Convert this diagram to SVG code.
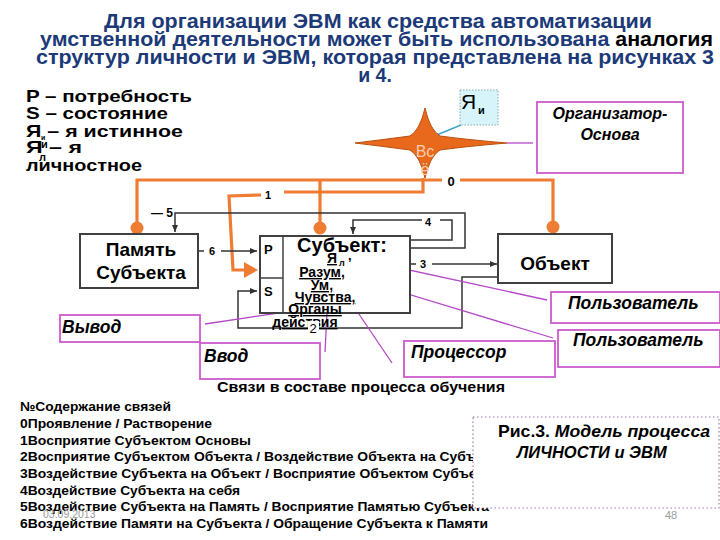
<svg xmlns="http://www.w3.org/2000/svg" width="720" height="540" viewBox="0 0 720 540">
<style>
.t{font-family:"Liberation Sans",Arial,sans-serif;font-weight:bold}
.title{font-size:19.5px;fill:#1C3A78}
.leg{font-size:17px;fill:#000}
.box{fill:#fff;stroke:#404040;stroke-width:2}
.mbox{fill:#fff;stroke:#CC5ACC;stroke-width:1.8}
.mt{font-size:17.5px;font-style:italic;fill:#000}
.ml{stroke:#B548C8;stroke-width:1.3;fill:none}
.or{stroke:#EE7D33;stroke-width:3.2;fill:none}
.bk{stroke:#333;stroke-width:1.5;fill:none}
.sub{font-size:14px;text-decoration:underline}
.lst{font-size:13px;fill:#000}
.lbl{font-size:11px}
</style>
<defs>
<marker id="ah" markerWidth="8" markerHeight="8" refX="7" refY="4" orient="auto" markerUnits="userSpaceOnUse">
<path d="M0,1 L7,4 L0,7 Z" fill="#333"/>
</marker>
</defs>
<rect width="720" height="540" fill="#fff"/>

<g id="title">
<text class="t title" x="104" y="28" textLength="548" lengthAdjust="spacingAndGlyphs">Для организации ЭВМ как средства автоматизации</text>
<text class="t title" x="40" y="46" textLength="673" lengthAdjust="spacingAndGlyphs">умственной деятельности может быть использована <tspan fill="#000">аналогия</tspan></text>
<text class="t title" x="36" y="64" textLength="678" lengthAdjust="spacingAndGlyphs">структур  личности и ЭВМ, которая представлена на рисунках 3</text>
<text class="t title" x="375" y="82" text-anchor="middle">и 4.</text>
</g>

<g id="legend" class="t leg">
<text x="26" y="102" textLength="166" lengthAdjust="spacingAndGlyphs">P  – потребность</text>
<text x="26" y="119" textLength="142" lengthAdjust="spacingAndGlyphs">S  – состояние</text>
<text x="26" y="137" textLength="157" lengthAdjust="spacingAndGlyphs">Я  – я истинное</text>
<text x="41" y="140" font-size="7">и</text>
<text x="26" y="153" textLength="56" lengthAdjust="spacingAndGlyphs">Я   – я</text>
<text x="41" y="148" font-size="11">и</text>
<text x="39" y="161" font-size="11">л</text>
<text x="26" y="171" textLength="116" lengthAdjust="spacingAndGlyphs">личностное</text>
</g>

<g id="connectors">
<path class="or" d="M137,228 V180 H442"/>
<path class="or" d="M460,180 H553 V227"/>
<path class="or" d="M320,180 V228"/>
<path class="or" d="M423,178 V192 H284"/>
<path class="or" d="M261,195 L229,196 L233,270 H245"/>
<path d="M244,262 L258,270 L244,278 Z" fill="#EE7D33"/>
<circle cx="137" cy="228" r="6.5" fill="#EE7D33"/>
<circle cx="320" cy="228" r="6.5" fill="#EE7D33"/>
<circle cx="553" cy="227" r="6.5" fill="#EE7D33"/>
<path class="bk" d="M410,248 H465 V213 H175 V232" marker-end="url(#ah)"/>
<path class="bk" d="M410,240 H452 V220 H440"/>
<path class="bk" d="M422,220 H353 V234" marker-end="url(#ah)"/>
<path class="bk" d="M198,251 H204"/>
<path class="bk" d="M221,251 H257" marker-end="url(#ah)"/>
<path class="bk" d="M410,264 H416"/>
<path class="bk" d="M432,264 H497" marker-end="url(#ah)"/>
<path class="bk" d="M500,277 H462 V328 H238 V291 H257" marker-end="url(#ah)"/>
<path class="ml" d="M507,143 H533"/>
<path class="ml" d="M205,324 L292,311"/>
<path class="ml" d="M325,352 L328,292"/>
<path class="ml" d="M392,363 L340,286"/>
<path class="ml" d="M363,260 L547,300"/>
<path class="ml" d="M355,278 L553,338"/>
<path d="M427,139 L461,125" stroke="#3FA7C8" stroke-width="1.5"/>
</g>

<g id="star">
<path d="M425,108 Q430,130 440,136 Q470,140 507,143 Q470,146 440,150 Q430,156 425,178 Q420,156 410,150 Q380,146 355,143 Q380,140 410,136 Q420,130 425,108 Z" fill="#E8681C" stroke="#B8500F" stroke-width="1"/>
<text x="425" y="157" text-anchor="middle" font-family="Liberation Sans,Arial,sans-serif" font-size="16" fill="#F8CDAE">Вс</text>
<text x="425" y="175" text-anchor="middle" font-family="Liberation Sans,Arial,sans-serif" font-size="16" fill="#F8CDAE">ё</text>
</g>

<g id="ya-i">
<rect x="460" y="90" width="38" height="35" fill="#D6F4FA" stroke="#8AA" stroke-width="1" stroke-dasharray="1.5,1.5"/>
<text x="461" y="109" font-family="Liberation Sans,Arial,sans-serif" font-size="21" fill="#000">Я</text>
<text x="478" y="114" class="t" font-size="11">и</text>
</g>

<g id="organizer">
<rect class="mbox" x="537" y="102" width="146" height="71"/>
<text class="t" x="610" y="119" text-anchor="middle" font-size="16" font-style="italic">Организатор-</text>
<text class="t" x="610" y="140" text-anchor="middle" font-size="16" font-style="italic">Основа</text>
</g>

<g id="memory">
<rect class="box" x="80" y="234" width="118" height="54"/>
<text class="t" x="141" y="256" text-anchor="middle" font-size="19">Память</text>
<text class="t" x="141" y="279" text-anchor="middle" font-size="19">Субъекта</text>
</g>

<g id="subject">
<rect class="box" x="260" y="236" width="150" height="77" stroke-width="1.5"/>
<line x1="283" y1="236" x2="283" y2="313" stroke="#404040" stroke-width="1.5"/>
<line x1="260" y1="278" x2="283" y2="278" stroke="#404040" stroke-width="1.5"/>
<text class="t" x="264" y="254" font-size="13">P</text>
<text class="t" x="264" y="296" font-size="13">S</text>
<text class="t" x="342" y="252" text-anchor="middle" font-size="20">Субъект:</text>
<text class="t sub" x="327" y="263">Я</text>
<text class="t" x="339" y="266" font-size="9">л</text>
<text class="t" x="348" y="260" font-size="13">,</text>
<text class="t sub" x="322" y="277" text-anchor="middle">Разум,</text>
<text class="t sub" x="322" y="290" text-anchor="middle">Ум,</text>
<text class="t sub" x="325" y="302" text-anchor="middle">Чувства,</text>
<text class="t sub" x="315" y="314" text-anchor="middle">Органы</text>
<text class="t sub" x="305" y="327" text-anchor="middle">действия</text>
</g>

<g id="object">
<rect class="box" x="498" y="234" width="114" height="49"/>
<text class="t" x="555" y="270" text-anchor="middle" font-size="19">Объект</text>
</g>

<g id="labels" class="t lbl">
<text x="268" y="199" text-anchor="middle">1</text>
<rect x="443" y="175" width="16" height="12" fill="#fff"/>
<text x="451" y="186" text-anchor="middle" font-size="13">0</text>
<text x="151" y="217" font-size="12">— 5</text>
<text x="428" y="226" text-anchor="middle">4</text>
<text x="212" y="255" text-anchor="middle">6</text>
<text x="423" y="268" text-anchor="middle">3</text>
<rect x="308" y="321" width="11" height="13" fill="#fff"/>
<text x="313" y="333" text-anchor="middle" font-size="13" font-weight="normal">2</text>
</g>

<g id="vyvod"><rect class="mbox" x="60" y="315" width="140" height="27"/><text class="t mt" x="62" y="333">Вывод</text></g>
<g id="vvod"><rect class="mbox" x="200" y="343" width="120" height="36"/><text class="t mt" x="204" y="362">Ввод</text></g>
<g id="processor"><rect class="mbox" x="404" y="341" width="151" height="36"/><text class="t mt" x="411" y="358">Процессор</text></g>
<g id="user1"><rect class="mbox" x="551" y="292" width="169" height="31"/><text class="t mt" x="568" y="309">Пользователь</text></g>
<g id="user2"><rect class="mbox" x="558" y="330" width="162" height="37"/><text class="t mt" x="573" y="346">Пользователь</text></g>

<g id="list" class="t">
<text x="217" y="392" font-size="15" textLength="288" lengthAdjust="spacingAndGlyphs">Связи  в составе процесса обучения</text>
<text class="lst" x="20" y="411" textLength="151" lengthAdjust="spacingAndGlyphs">№Содержание связей</text>
<text class="lst" x="20" y="428" textLength="192" lengthAdjust="spacingAndGlyphs">0Проявление / Растворение</text>
<text class="lst" x="20" y="445" textLength="231" lengthAdjust="spacingAndGlyphs">1Восприятие Субъектом  Основы</text>
<text class="lst" x="20" y="461" textLength="485" lengthAdjust="spacingAndGlyphs">2Восприятие Субъектом Объекта / Воздействие Объекта на Субъекта</text>
<text class="lst" x="20" y="478" textLength="478" lengthAdjust="spacingAndGlyphs">3Воздействие Субъекта на Объект / Восприятие Объектом Субъекта</text>
<text class="lst" x="20" y="495" textLength="220" lengthAdjust="spacingAndGlyphs">4Воздействие Субъекта на себя</text>
<text class="lst" x="20" y="511" textLength="469" lengthAdjust="spacingAndGlyphs">5Воздействие Субъекта на Память / Восприятие Памятью Субъекта</text>
<text class="lst" x="20" y="528" textLength="468" lengthAdjust="spacingAndGlyphs">6Воздействие Памяти  на Субъекта / Обращение Субъекта к Памяти</text>
</g>

<g id="caption">
<rect x="473" y="417" width="246" height="91" fill="#fff" stroke="#A07AB0" stroke-width="1.2" stroke-dasharray="1.5,2.5"/>
<text class="t" x="498" y="437" font-size="17" textLength="212" lengthAdjust="spacingAndGlyphs">Рис.3. <tspan font-style="italic">Модель процесса</tspan></text>
<text class="t" x="517" y="458" font-size="16.5" font-style="italic">ЛИЧНОСТИ и ЭВМ</text>
</g>

<g id="footer" font-family="Liberation Sans,Arial,sans-serif" fill="#9A9A9A">
<text x="43" y="518" font-size="10.5">03.09.2013</text>
<text x="665" y="519" font-size="11">48</text>
</g>
</svg>
